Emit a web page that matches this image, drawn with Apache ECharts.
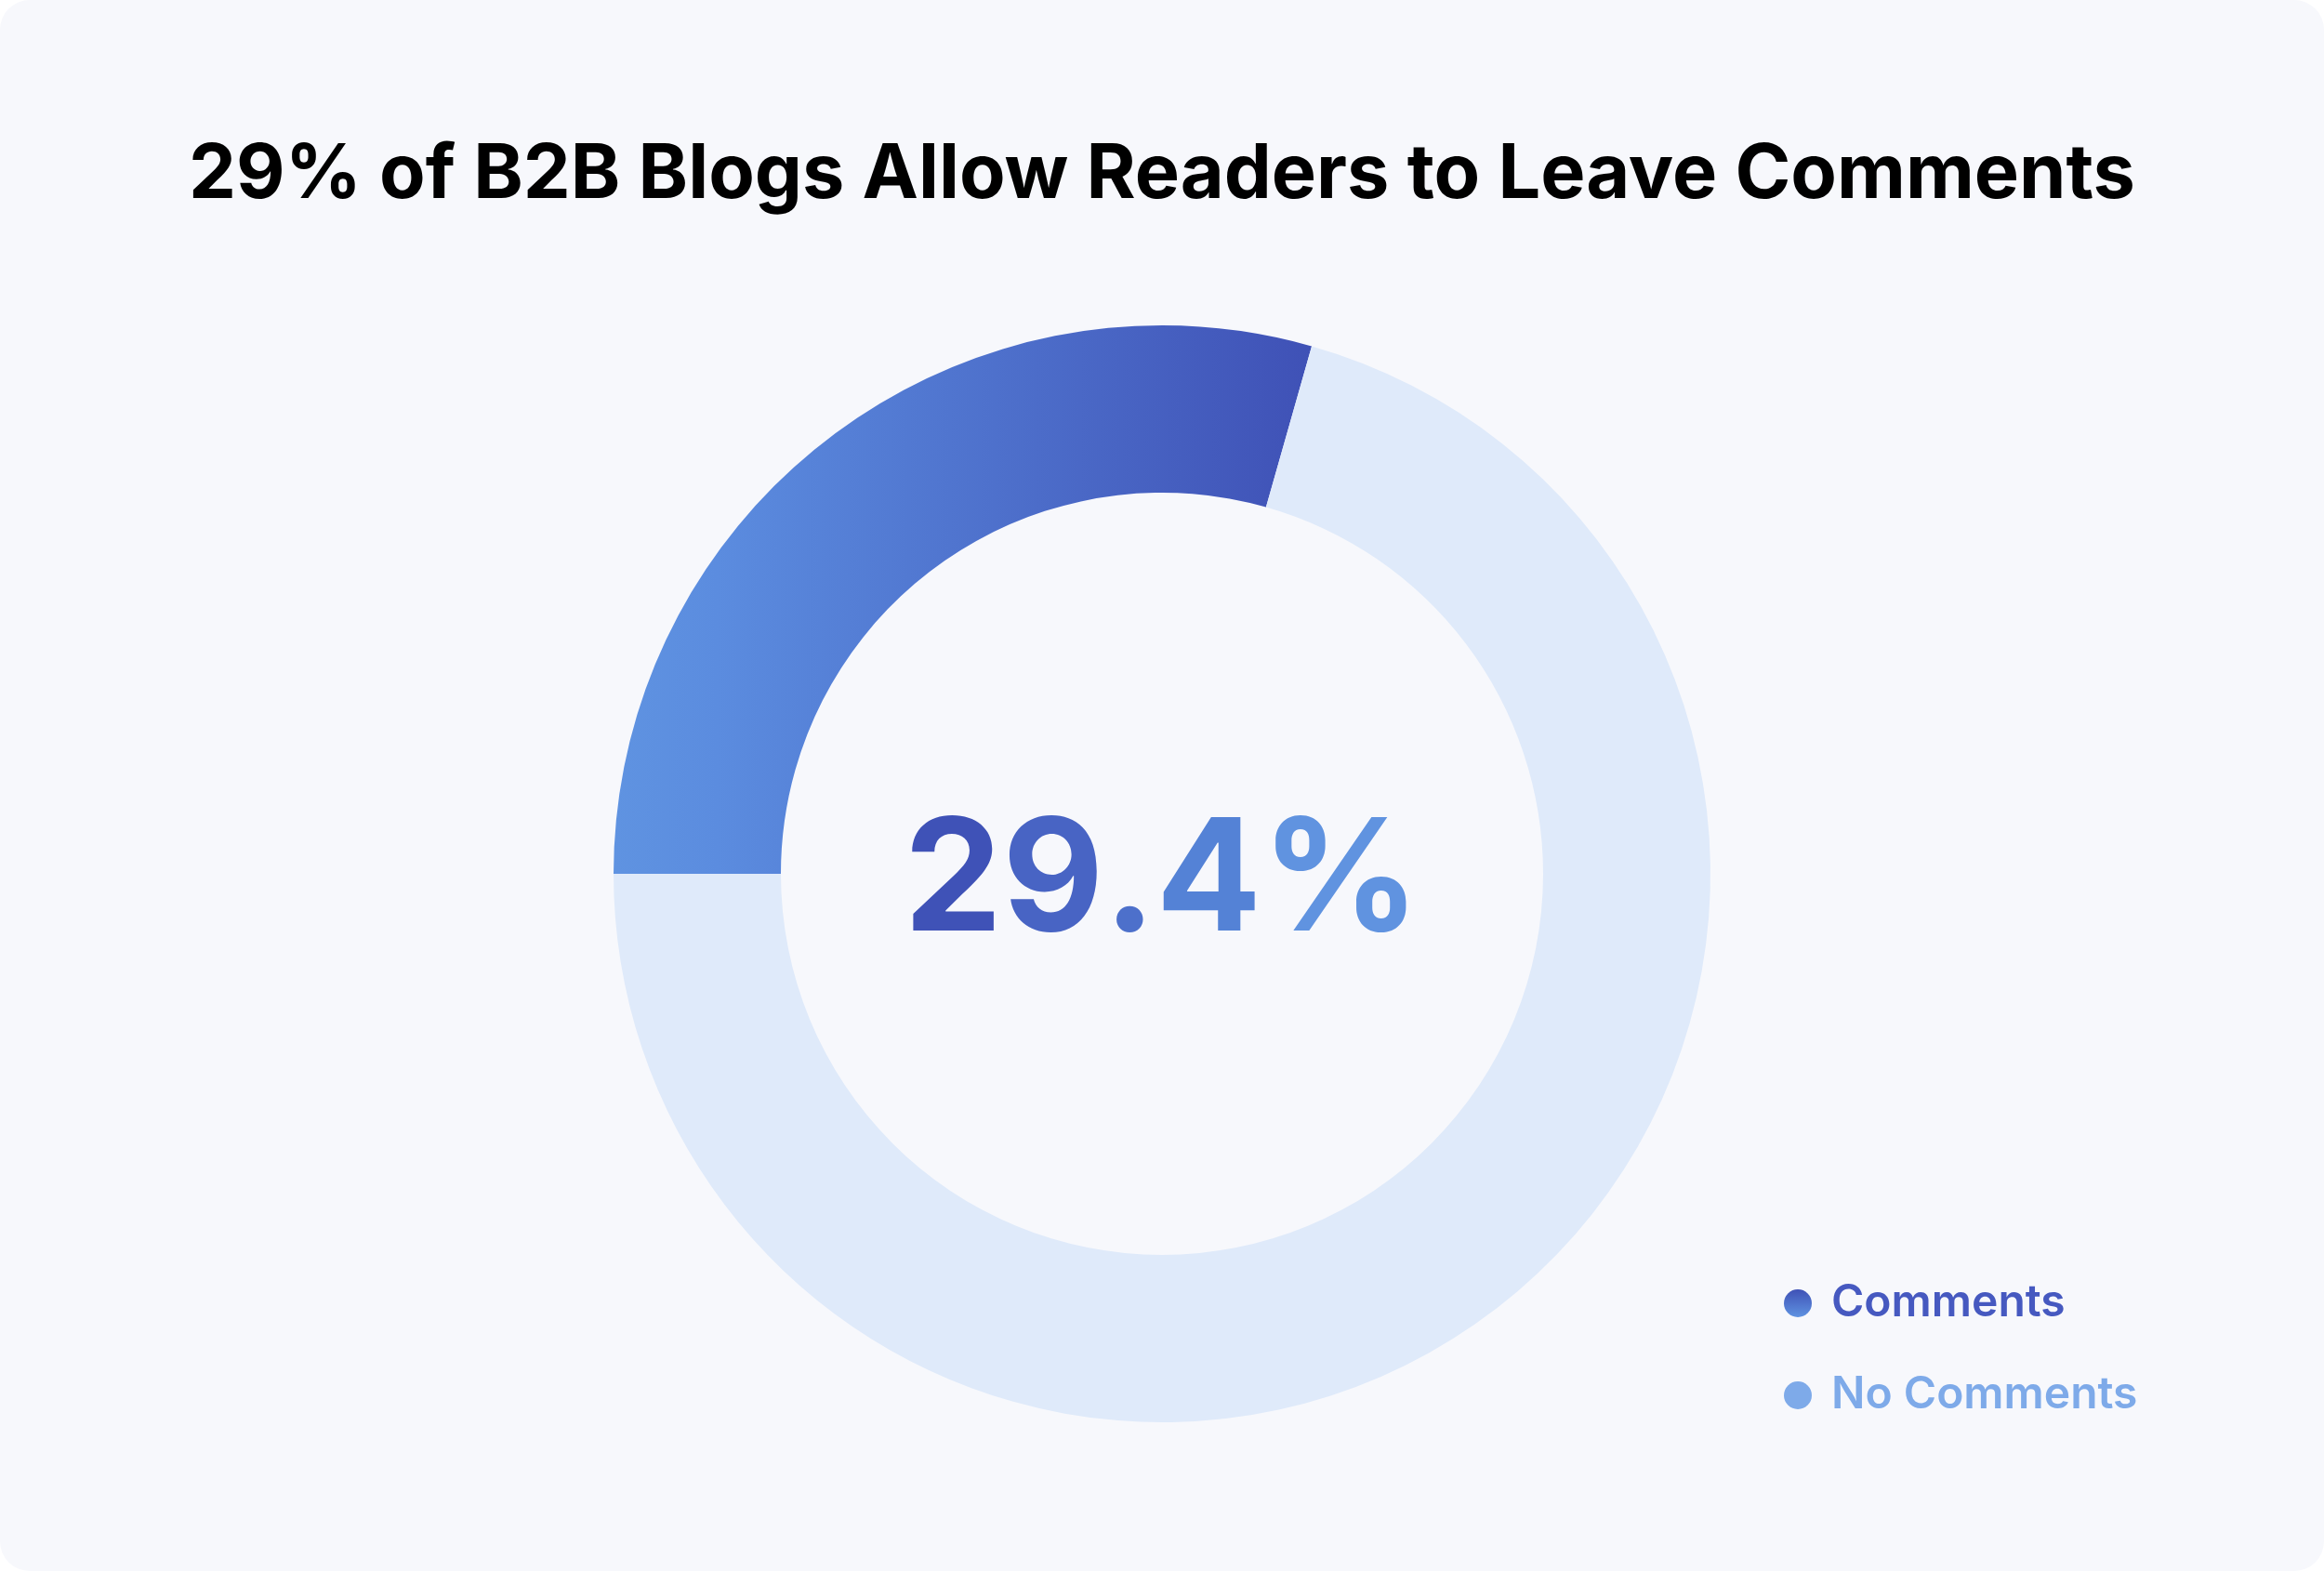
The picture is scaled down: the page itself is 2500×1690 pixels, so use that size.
<!DOCTYPE html>
<html>
<head>
<meta charset="utf-8">
<script src="https://cdn.jsdelivr.net/npm/echarts@6/dist/echarts.min.js"></script>
<style>
  html, body { margin: 0; padding: 0; background: #ffffff; }
  #chart { width: 2500px; height: 1690px; background: #f7f8fc; border-radius: 32px; overflow: hidden; }
</style>
</head>
<body>
<div id="chart"></div>
<script>
const titleText = '29% of B2B Blogs Allow Readers to Leave Comments';
const categories = ['Comments', 'No Comments'];
const values = [29.4, 70.6];
const centerChars = ['2', '9', '.', '4', '%'];
const centerCharColors = ['#3f52b7', '#4864c4', '#4d70cb', '#5482d6', '#6093e0'];

const chart = echarts.init(document.getElementById('chart'), null, { renderer: 'canvas' });
const G = echarts.graphic.LinearGradient;

const sliceColors = [
  new G(0, 0, 1, 0, [{ offset: 0, color: '#5f93e1' }, { offset: 0.15, color: '#5b8cdf' }, { offset: 1, color: '#3f51b6' }]),
  '#dfeafa'
];
const legendIconColors = [
  new G(0, 0, 0, 1, [{ offset: 0, color: '#3f51b6' }, { offset: 1, color: '#5f93e1' }]),
  '#7eaae9'
];
const legendTextColors = ['#4659c0', '#7eaae9'];

const rich = {};
centerChars.forEach((ch, i) => {
  rich['c' + i] = { fontFamily: 'Inter', fontWeight: 'bold', fontSize: 168, fill: centerCharColors[i] };
});
const centerText = centerChars.map((ch, i) => '{c' + i + '|' + ch + '}').join('');

chart.setOption({
  backgroundColor: 'transparent',
  animation: false,
  title: {
    text: titleText,
    left: 'center',
    top: 143,
    textStyle: { fontFamily: 'Inter', fontWeight: 'bold', fontSize: 81, color: '#000000' }
  },
  legend: {
    orient: 'vertical',
    left: 1914,
    top: 1373,
    itemWidth: 30,
    itemHeight: 30,
    itemGap: 51,
    icon: 'circle',
    selectedMode: false,
    textStyle: { fontFamily: 'Inter', fontWeight: 600, fontSize: 48, padding: [0, 0, 0, 16] },
    data: categories.map((c, i) => ({
      name: c,
      itemStyle: { color: legendIconColors[i] },
      textStyle: { color: legendTextColors[i] }
    }))
  },
  graphic: [{
    type: 'text',
    x: 1250,
    y: 950,
    style: {
      text: centerText,
      rich: rich,
      align: 'center',
      verticalAlign: 'middle',
      fill: '#4d70cb',
      font: 'bold 168px Inter'
    }
  }],
  series: [{
    type: 'pie',
    center: [1250, 940],
    radius: [410, 590],
    startAngle: 180,
    clockwise: true,
    silent: true,
    label: { show: false },
    labelLine: { show: false },
    emphasis: { disabled: true },
    data: categories.map((c, i) => ({ name: c, value: values[i], itemStyle: { color: sliceColors[i] } }))
  }]
});
</script>
</body>
</html>
